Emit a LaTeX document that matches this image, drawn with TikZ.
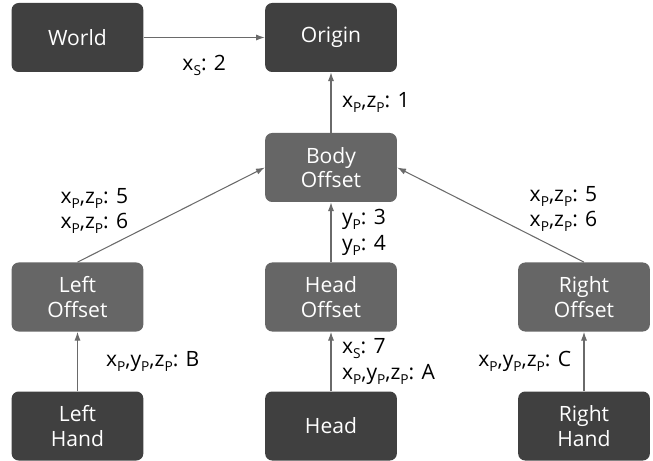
\documentclass[tikz,border=0pt]{standalone}
\usepackage{fontspec}
\setmainfont{Open Sans}
\usetikzlibrary{arrows.meta,positioning}
\definecolor{darkfill}{HTML}{404040}
\definecolor{midfill}{HTML}{666666}
\definecolor{edgegray}{HTML}{6A6A6A}
\newcommand{\idx}[1]{\raisebox{-0.45ex}{\fontsize{7.8}{8}\selectfont #1}}
\tikzstyle{basebox} = [rectangle, rounded corners=4pt, text=white,
    minimum width=2.62cm, minimum height=1.38cm, text width=2.4cm,
    align=center, font=\fontsize{12}{14}\selectfont]
\tikzstyle{fixedbox} = [basebox, fill=darkfill]
\tikzstyle{offsetbox} = [basebox, fill=midfill]
\tikzstyle{link} = [-{Latex[length=5pt,width=3.5pt]}, edgegray, line width=0.6pt]
\tikzstyle{tag} = [inner sep=0pt, align=left, text=black,
    font=\fontsize{12}{14.5}\selectfont]

\begin{document}
\begin{tikzpicture}[auto]
  \useasboundingbox (-6.62,0.75) rectangle (6.44,-8.47);
  % Place nodes
  \node [fixedbox] (origin) {Origin};
  \node [fixedbox, left of=origin, node distance=5.07cm] (world) {World};
  \node [offsetbox, below of=origin, node distance=2.6cm] (body) {Body\\Offset};
  \node [offsetbox, below of=body, node distance=2.59cm] (headoff) {Head\\Offset};
  \node [offsetbox, left of=headoff, node distance=5.07cm] (leftoff) {Left\\Offset};
  \node [offsetbox, right of=headoff, node distance=5.06cm] (rightoff) {Right\\Offset};
  \node [fixedbox, below of=headoff, node distance=2.58cm] (head) {Head};
  \node [fixedbox, below of=leftoff, node distance=2.58cm] (lefthand) {Left\\Hand};
  \node [fixedbox, below of=rightoff, node distance=2.58cm] (righthand) {Right\\Hand};
  % Draw edges
  \draw [link] (world) -- node[tag, below=10pt] (tagws) {x\idx{S}: 2} (origin);
  \draw [link] (body) -- node[tag, right=6pt] (tagbo) {x\idx{P},z\idx{P}: 1} (origin);
  \draw [link] (leftoff.north) -- node[tag, pos=0.28, above left=1pt] (taglb)
    {x\idx{P},z\idx{P}: 5\\x\idx{P},z\idx{P}: 6} (body.west);
  \draw [link] (headoff) -- node[tag, right=6pt] (taghb)
    {y\idx{P}: 3\\y\idx{P}: 4} (body);
  \draw [link] (rightoff.north) -- node[tag, pos=0.3, above right=1pt] (tagrb)
    {x\idx{P},z\idx{P}: 5\\x\idx{P},z\idx{P}: 6} (body.east);
  \draw [link] (lefthand) -- node[tag, right=16pt] (tagll)
    {x\idx{P},y\idx{P},z\idx{P}: B} (leftoff);
  \draw [link] (head) -- node[tag, right=6pt] (taghh)
    {x\idx{S}: 7\\x\idx{P},y\idx{P},z\idx{P}: A} (headoff);
  \draw [link] (righthand) -- node[tag, left=7pt] (tagrr)
    {x\idx{P},y\idx{P},z\idx{P}: C} (rightoff);
\end{tikzpicture}
\end{document}
